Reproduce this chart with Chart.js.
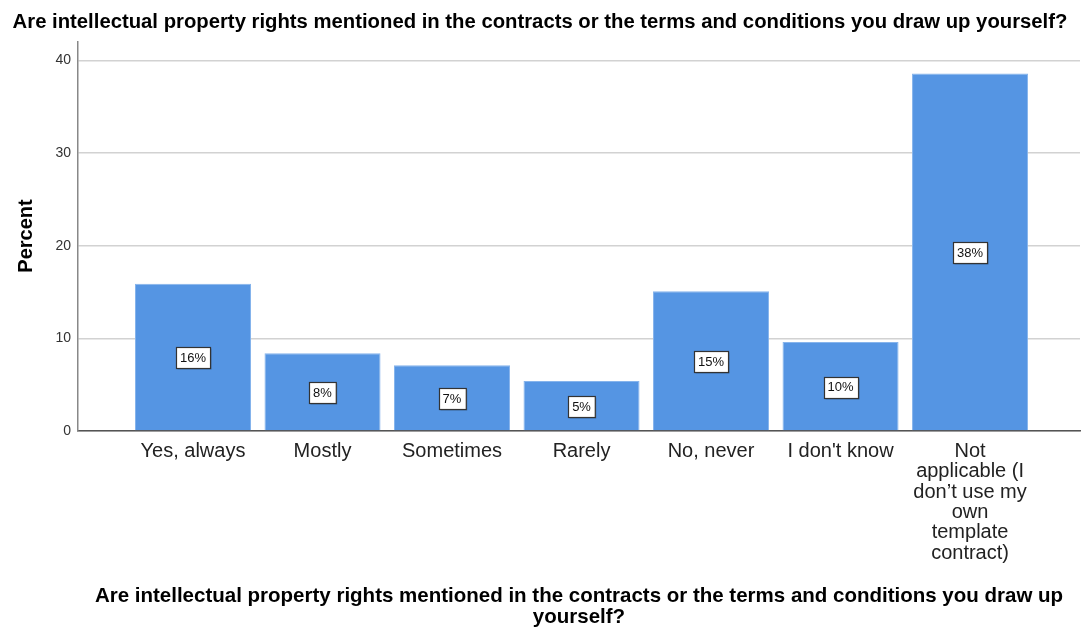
<!DOCTYPE html>
<html>
<head>
<meta charset="utf-8">
<script src="https://cdn.jsdelivr.net/npm/chart.js@4/dist/chart.umd.min.js"></script>
<style>
html,body{margin:0;padding:0;background:#fff;}
#wrap{width:1082px;height:628px;position:relative;}
</style>
</head>
<body>
<div id="wrap"><canvas id="c" width="1082" height="628"></canvas></div>
<script>
const chartTitle = 'Are intellectual property rights mentioned in the contracts or the terms and conditions you draw up yourself?';
const xAxisTitle = ['Are intellectual property rights mentioned in the contracts or the terms and conditions you draw up', 'yourself?'];
const yAxisTitle = 'Percent';
const categories = [
  ['Yes, always'],
  ['Mostly'],
  ['Sometimes'],
  ['Rarely'],
  ['No, never'],
  ["I don't know"],
  ['Not', 'applicable (I', 'don\u2019t use my', 'own', 'template', 'contract)']
];
const percentValues = [15.9, 8.4, 7.1, 5.4, 15.1, 9.6, 38.6];
const valueLabels = ['16%', '8%', '7%', '5%', '15%', '10%', '38%'];
const yTicks = [0, 10, 20, 30, 40];

const FONT = "'Liberation Sans', Arial, sans-serif";

const barLabelPlugin = {
  id: 'barLabels',
  afterDatasetsDraw(chart) {
    const ctx = chart.ctx;
    const meta = chart.getDatasetMeta(0);
    ctx.save();
    ctx.font = '13px ' + FONT;
    ctx.textAlign = 'center';
    ctx.textBaseline = 'middle';
    meta.data.forEach((bar, i) => {
      const txt = valueLabels[i];
      const cx = bar.x;
      const cy = (bar.y + bar.base) / 2 + 1;
      const w = ctx.measureText(txt).width + 8;
      const h = 21;
      const x0 = Math.round(cx - w / 2) + 0.5;
      const y0 = Math.round(cy - h / 2) + 0.5;
      ctx.fillStyle = 'rgba(0,0,0,0.25)';
      ctx.fillRect(x0 + 1, y0 + 1, w, h);
      ctx.fillStyle = '#ffffff';
      ctx.fillRect(x0, y0, w, h);
      ctx.strokeStyle = '#333333';
      ctx.lineWidth = 1.2;
      ctx.strokeRect(x0, y0, w, h);
      ctx.fillStyle = '#111111';
      ctx.fillText(txt, cx, cy + 0.5);
    });
    ctx.restore();
  }
};

const yTitlePlugin = {
  id: 'yTitle',
  afterDraw(chart) {
    const ctx = chart.ctx;
    ctx.save();
    ctx.translate(26, 236);
    ctx.rotate(-Math.PI / 2);
    ctx.font = 'bold 20px ' + FONT;
    ctx.fillStyle = '#000';
    ctx.textAlign = 'center';
    ctx.textBaseline = 'middle';
    ctx.fillText(yAxisTitle, 0, 0);
    ctx.restore();
  }
};

const points = percentValues.map((v, i) => ({x: i, y: v}));

new Chart(document.getElementById('c'), {
  type: 'bar',
  data: {
    datasets: [{
      data: points,
      backgroundColor: '#5595e3',
      borderColor: '#86b4ec',
      borderWidth: 1,
      barPercentage: 0.896,
      categoryPercentage: 1.0
    }]
  },
  options: {
    responsive: false,
    animation: false,
    layout: {padding: {left: 0, right: 2, top: 0, bottom: 0}},
    plugins: {
      legend: {display: false},
      tooltip: {enabled: false},
      title: {
        display: true,
        text: chartTitle,
        color: '#000',
        font: {family: FONT, size: 20.3, weight: 'bold', lineHeight: 1.2},
        padding: {top: 10, bottom: 7.6}
      }
    },
    scales: {
      x: {
        type: 'linear',
        offset: false,
        min: -0.888,
        max: 6.849,
        afterFit(scale) { scale.height = 197; },
        afterBuildTicks(scale) { scale.ticks = categories.map((c, i) => ({value: i})); },
        grid: {display: false, drawTicks: false, offset: false},
        border: {display: true, color: '#555555', width: 1.5},
        ticks: {
          autoSkip: false,
          maxRotation: 0,
          minRotation: 0,
          padding: 10,
          color: '#222',
          font: {family: FONT, size: 20, lineHeight: 1.02},
          callback: (v) => categories[Math.round(v)]
        },
        title: {
          display: true,
          text: xAxisTitle,
          color: '#000',
          font: {family: FONT, size: 20.5, weight: 'bold', lineHeight: 1.03},
          padding: {top: 0, bottom: 0}
        }
      },
      y: {
        min: 0,
        max: 42,
        afterFit(scale) { scale.width = 78; },
        afterBuildTicks(scale) { scale.ticks = yTicks.map(v => ({value: v})); },
        grid: {color: '#d2d2d2', lineWidth: 1.5, drawTicks: false},
        border: {display: true, color: '#888888', width: 1.5},
        ticks: {
          padding: 7,
          color: '#333',
          font: {family: FONT, size: 14}
        }
      }
    }
  },
  plugins: [barLabelPlugin, yTitlePlugin]
});
</script>
</body>
</html>
